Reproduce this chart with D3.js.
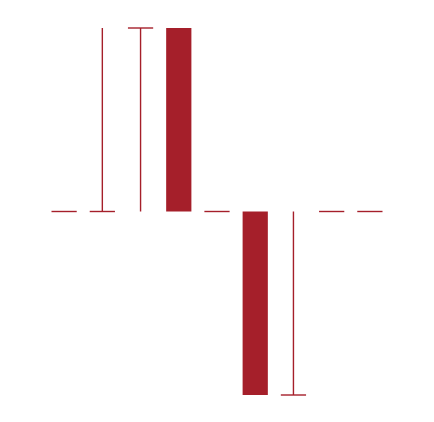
<!DOCTYPE html>
<html><head><meta charset="utf-8">
<script src="https://cdn.jsdelivr.net/npm/d3@7"></script>
<style>html,body{margin:0;padding:0;background:#fff;}</style>
</head><body>
<svg id="chart" width="434" height="422"></svg>
<script>
// Data
const categories = ["1","2","3","4","5","6","7","8","9"];
const values = [0, 1, 1, 1, 0, -1, -1, 0, 0];
const marks = ["dash","baseCap","valueCap","bar","dash","bar","valueCap","dash","dash"];

const color = "#a51f2a";
const svg = d3.select("#chart");
const x = d3.scaleBand().domain(categories).range([45, 389]).paddingInner(0.34).paddingOuter(0.17);
const y = d3.scaleLinear().domain([-1, 1]).range([395, 28]);

const data = categories.map((c, i) => ({c, v: values[i], m: marks[i]}));
const g = svg.append("g");

data.forEach(d => {
  const x0 = x(d.c), w = x.bandwidth(), cx = x0 + w / 2;
  if (d.m === "bar") {
    g.append("rect").attr("x", x0).attr("width", w)
      .attr("y", Math.min(y(d.v), y(0))).attr("height", Math.abs(y(d.v) - y(0)))
      .attr("fill", color);
  } else if (d.m === "dash") {
    g.append("line").attr("x1", x0).attr("x2", x0 + w).attr("y1", y(0)).attr("y2", y(0))
      .attr("stroke", color).attr("stroke-width", 1.4);
  } else {
    g.append("line").attr("x1", cx).attr("x2", cx).attr("y1", y(0)).attr("y2", y(d.v))
      .attr("stroke", color).attr("stroke-width", 1.4);
    const capY = d.m === "baseCap" ? y(0) : y(d.v);
    g.append("line").attr("x1", x0).attr("x2", x0 + w).attr("y1", capY).attr("y2", capY)
      .attr("stroke", color).attr("stroke-width", 1.4);
  }
});
</script>
</body></html>
